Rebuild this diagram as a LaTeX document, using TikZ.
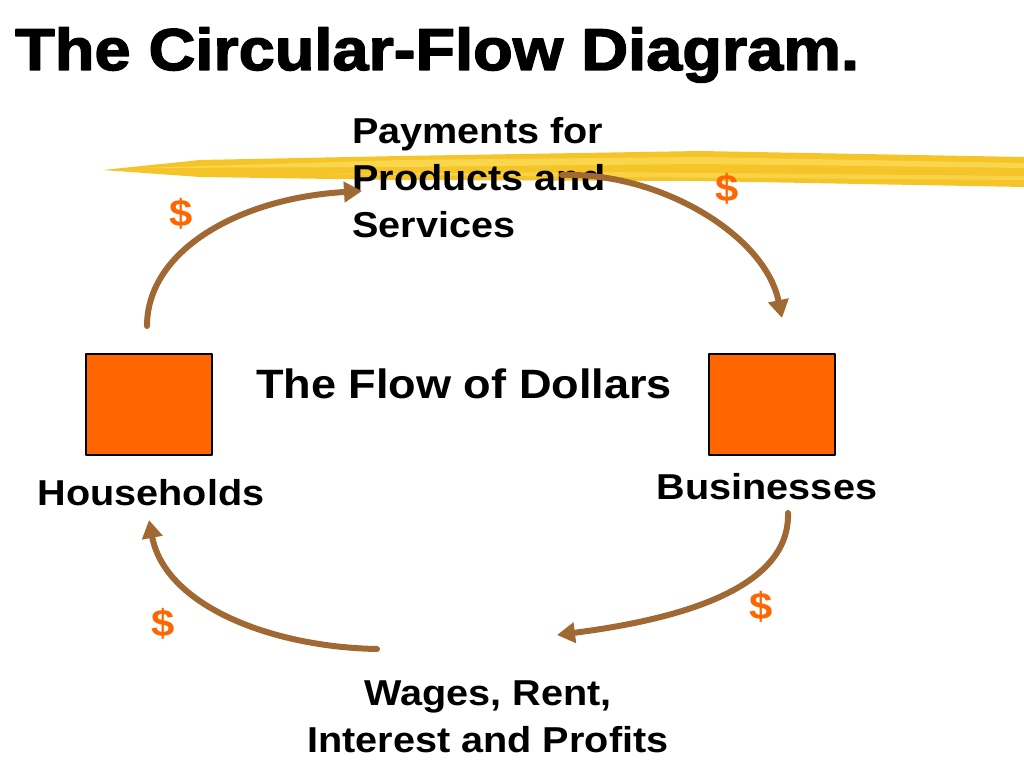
\documentclass[tikz,border=0pt]{standalone}
\usepackage{fontspec}
\setmainfont{Liberation Sans}[FakeStretch=1.1]
\newfontfamily\titlefont{Liberation Sans}[FakeStretch=1.1,BoldFeatures={FakeBold=2.5}]
\usepackage{xcolor}
\usetikzlibrary{arrows.meta}
\definecolor{flowbrown}{RGB}{160,105,52}
\definecolor{sectorfill}{RGB}{255,102,0}
\definecolor{dollarorange}{RGB}{255,102,0}
\definecolor{marker}{RGB}{244,196,40}
\definecolor{markerlight}{RGB}{252,222,90}
\tikzset{
  every picture/.style={line join=round, line cap=round},
  flow/.style={draw=flowbrown, line width=6pt, -{Triangle[length=18pt,width=20pt]}},
  sector/.style={draw=black, line width=1.3pt, fill=sectorfill, minimum width=126pt, minimum height=101pt, inner sep=0pt},
  dollar/.style={text=dollarorange, font=\fontsize{38}{40}\selectfont\bfseries, inner sep=0pt},
  lbl/.style={font=\fontsize{36}{47}\selectfont\bfseries, inner sep=0pt},
}

\begin{document}
\begin{tikzpicture}[x=1pt,y=-1pt]
\fill[white](0,0)rectangle(1024,768);
\useasboundingbox(0,0)rectangle(1024,768);
% highlighter stroke
\fill[marker](103,170)--(200,160)--(400,156)--(700,151)--(1024,157)--(1024,187)--(700,181)--(400,180)--(200,177)--cycle;
\fill[markerlight,opacity=0.7](140,168)--(400,160)--(700,157)--(1024,163)--(1024,168)--(700,164)--(400,167)--cycle;
\fill[markerlight,opacity=0.6](300,174)--(600,172)--(1024,176)--(1024,180)--(600,177)--cycle;

\node[anchor=base west,inner sep=0pt,font=\titlefont\fontsize{59}{64}\selectfont\bfseries](title)at(15,70){The Circular-Flow Diagram.};

\node[sector](hh)at(149,404.5){};
\node[sector](biz)at(772,404.5){};
\node[lbl,anchor=base](hhlbl)at(151,505){Households};
\node[lbl,anchor=base](bizlbl)at(767,499){Businesses};
\node[font=\fontsize{41}{44}\selectfont\bfseries,inner sep=0pt,anchor=base](center)at(464,398){The Flow of Dollars};

\node[lbl,align=left,anchor=west](pay)at(352,178){Payments for\\Products and\\Services};
\node[lbl,align=center](wage)at(488,717){Wages, Rent,\\Interest and Profits};

\node[dollar](d1)at(181,214){\$};
\node[dollar](d2)at(727,189){\$};
\node[dollar](d3)at(761,607){\$};
\node[dollar](d4)at(163,624){\$};

% flows of money
\coordinate(a1)at(147,326);
\coordinate(b1)at(362,191);
\coordinate(a2)at(562,175);
\coordinate(b2)at(782,318);
\coordinate(a3)at(788,513);
\coordinate(b3)at(557,635);
\coordinate(a4)at(377,649);
\coordinate(b4)at(149,520);
\draw[flow](a1)..controls(147,250)and(240,198)..(b1);
\draw[flow](a2)..controls(660,172)and(765,235)..(b2);
\draw[flow](a3)..controls(790,585)and(690,618)..(b3);
\draw[flow](a4)..controls(270,647)and(165,605)..(b4);
\end{tikzpicture}
\end{document}
